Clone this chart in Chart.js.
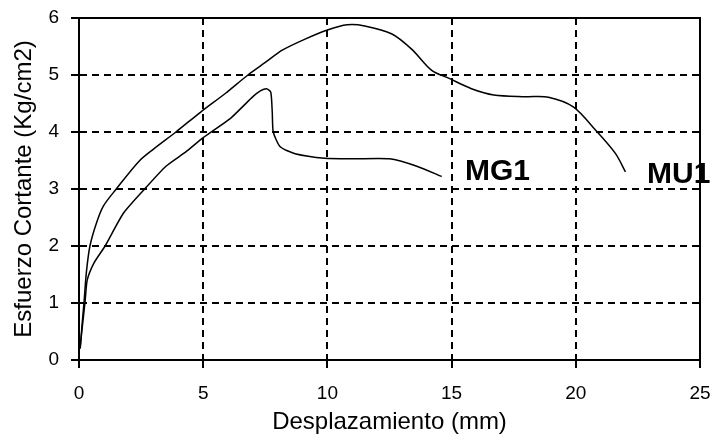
<!DOCTYPE html>
<html>
<head>
<meta charset="utf-8">
<script src="https://cdn.jsdelivr.net/npm/chart.js@4/dist/chart.umd.min.js"></script>
<style>
    html, body { margin: 0; padding: 0; background: #fff; }
    #wrap { width: 712px; height: 441px; }
</style>
</head>
<body>
<div id="wrap"><canvas id="chart"></canvas></div>
<script>
// Desplazamiento (mm) / Esfuerzo Cortante (Kg/cm2)
const mu1X = [0.05, 0.12, 0.2, 0.3, 0.44, 0.7, 0.98, 1.5, 2.4, 3.0, 3.9, 4.9, 5.9, 6.8, 7.5, 8.2, 9.1, 10.0, 10.8, 11.5, 12.6, 13.4, 14.2, 14.9, 15.8, 16.7, 18.0, 18.9, 19.9, 20.8, 21.6, 22.0];
const mu1Y = [0.2, 0.6, 1.0, 1.55, 2.0, 2.4, 2.7, 3.0, 3.48, 3.7, 4.0, 4.35, 4.68, 5.0, 5.22, 5.44, 5.63, 5.79, 5.88, 5.86, 5.72, 5.45, 5.08, 4.94, 4.76, 4.65, 4.62, 4.61, 4.44, 4.03, 3.62, 3.3];

const mg1X = [0.05, 0.15, 0.25, 0.33, 0.6, 1.05, 1.78, 2.6, 3.5, 4.3, 5.0, 6.1, 6.6, 7.0, 7.3, 7.55, 7.72, 7.78, 7.82, 8.1, 8.7, 9.9, 11.0, 12.5, 13.6, 14.6];
const mg1Y = [0.25, 0.65, 1.05, 1.4, 1.7, 2.0, 2.57, 2.98, 3.4, 3.65, 3.9, 4.24, 4.45, 4.62, 4.72, 4.76, 4.7, 4.35, 4.0, 3.74, 3.62, 3.54, 3.53, 3.53, 3.4, 3.22];

const xTicks = [0, 5, 10, 15, 20, 25];
const yTicks = [0, 1, 2, 3, 4, 5, 6];

const seriesLabels = [
    { text: 'MG1', x: 15.54, y: 3.16 },
    { text: 'MU1', x: 22.87, y: 3.1 }
];

function toPoints(xs, ys) {
    return xs.map((x, i) => ({ x: x, y: ys[i] }));
}

const frame = {
    id: 'frame',
    afterDraw(chart) {
        const ctx = chart.ctx;
        const a = chart.chartArea;
        ctx.save();
        ctx.strokeStyle = '#000';
        ctx.lineWidth = 2;
        ctx.beginPath();
        ctx.moveTo(a.left, a.top);
        ctx.lineTo(a.right, a.top);
        ctx.lineTo(a.right, a.bottom);
        ctx.stroke();

        // etiquetas de las curvas
        ctx.fillStyle = '#000';
        ctx.font = 'bold 30px "Liberation Sans", Arial, sans-serif';
        ctx.textBaseline = 'alphabetic';
        seriesLabels.forEach(l => {
            const px = chart.scales.x.getPixelForValue(l.x);
            const py = chart.scales.y.getPixelForValue(l.y);
            ctx.fillText(l.text, px, py);
        });
        ctx.restore();
    }
};

const tickFont = { family: '"Liberation Sans", Arial, sans-serif', size: 19 };
const titleFont = { family: '"Liberation Sans", Arial, sans-serif', size: 24 };

new Chart(document.getElementById('chart').getContext('2d'), {
    type: 'scatter',
    data: {
        datasets: [
            {
                label: 'MU1',
                data: toPoints(mu1X, mu1Y),
                showLine: true,
                borderColor: '#000',
                borderWidth: 1.5,
                pointRadius: 0,
                tension: 0.3
            },
            {
                label: 'MG1',
                data: toPoints(mg1X, mg1Y),
                showLine: true,
                borderColor: '#000',
                borderWidth: 1.5,
                pointRadius: 0,
                tension: 0.2
            }
        ]
    },
    options: {
        responsive: true,
        maintainAspectRatio: false,
        animation: false,
        layout: { padding: { top: 18, right: 12, left: 0, bottom: 0 } },
        plugins: {
            legend: { display: false },
            tooltip: { enabled: false }
        },
        scales: {
            x: {
                type: 'linear',
                min: 0,
                max: 25,
                afterBuildTicks: s => { s.ticks = xTicks.map(v => ({ value: v })); },
                afterFit: s => {
                    s.height = 81;
                    s.paddingLeft = 0;
                    s.paddingRight = 0;
                },
                ticks: { color: '#000', font: tickFont, padding: 14, maxRotation: 0 },
                grid: {
                    color: '#000',
                    lineWidth: 2,
                    tickLength: 8,
                    tickColor: '#000',
                    tickWidth: 2,
                    tickBorderDash: []
                },
                border: { color: '#000', width: 2, dash: [7, 5] },
                title: {
                    display: true,
                    text: 'Desplazamiento (mm)',
                    color: '#000',
                    font: titleFont,
                    padding: { top: 4, bottom: 4 }
                }
            },
            y: {
                type: 'linear',
                min: 0,
                max: 6,
                afterBuildTicks: s => { s.ticks = yTicks.map(v => ({ value: v })); },
                afterFit: s => {
                    s.width = 79;
                    s.paddingTop = 0;
                    s.paddingBottom = 0;
                },
                ticks: { color: '#000', font: tickFont, padding: 12 },
                grid: {
                    color: '#000',
                    lineWidth: 2,
                    tickLength: 8,
                    tickColor: '#000',
                    tickWidth: 2,
                    tickBorderDash: []
                },
                border: { color: '#000', width: 2, dash: [7, 5] },
                title: {
                    display: true,
                    text: 'Esfuerzo Cortante (Kg/cm2)',
                    color: '#000',
                    font: titleFont,
                    padding: { top: 10, bottom: 0 }
                }
            }
        }
    },
    plugins: [frame]
});
</script>
</body>
</html>
